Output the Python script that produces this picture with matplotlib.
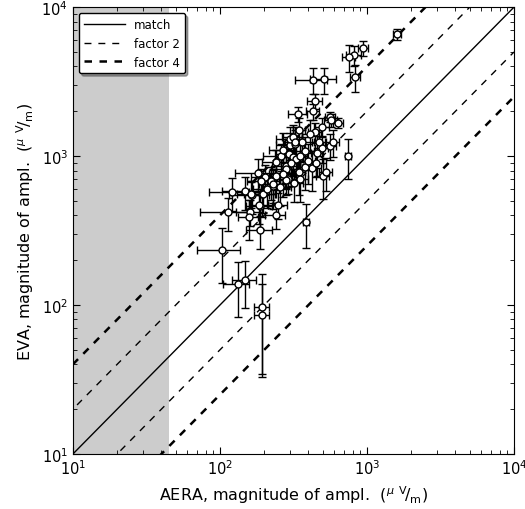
import numpy as np
import matplotlib
matplotlib.use('Agg')
import matplotlib.pyplot as plt

plt.rcParams['mathtext.fontset'] = 'dejavusans'

# AERA vs EVA amplitudes (uV/m)
aera = [1600, 940, 817, 755, 828, 430, 509, 443, 430, 340, 560,
        569, 635, 494, 443, 299, 361, 378, 494, 560, 585, 743,
        260, 294, 313, 240, 282, 344, 422, 450, 500, 526, 290,
        240, 182, 202, 190, 222, 229, 165, 193, 148,
        121, 113, 160, 157, 187, 187, 240, 250, 282, 163, 197, 185,
        103, 385, 132, 148, 193, 193,
        299, 313, 322, 326, 347, 270, 330, 410, 460, 280, 305, 350,
        380, 255, 268, 318, 352, 230, 210, 395, 470]
eva = [6590, 5300, 4760, 4620, 3390, 3240, 3270, 2340, 2000, 1910, 1830,
       1745, 1670, 1570, 1450, 1185, 1240, 1080, 1130, 1170, 1240, 1000,
       1000, 1030, 980, 910, 857, 781, 830, 898, 735, 781, 700,
       735, 769, 723, 680, 680, 630, 547, 555, 582,
       573, 421, 421, 390, 461, 318, 402, 469, 690, 556, 556, 469,
       234, 361, 138, 147, 97, 86,
       1300, 1350, 1200, 1250, 1500, 1100, 950, 1400, 1050, 820, 900, 1000,
       850, 620, 760, 660, 700, 650, 600, 930, 1250]
# relative uncertainties
aera_rel = [0.06, 0.08, 0.12, 0.10, 0.08, 0.25, 0.2, 0.12, 0.1, 0.15, 0.08,
            0.1, 0.08, 0.12, 0.1, 0.2, 0.2, 0.15, 0.1, 0.1, 0.1, 0.05,
            0.25, 0.2, 0.15, 0.2, 0.2, 0.1, 0.15, 0.12, 0.1, 0.1, 0.2,
            0.25, 0.3, 0.2, 0.2, 0.15, 0.15, 0.3, 0.25, 0.3,
            0.3, 0.35, 0.2, 0.15, 0.2, 0.2, 0.15, 0.15, 0.1, 0.2, 0.2, 0.15,
            0.32, 0.05, 0.2, 0.18, 0.12, 0.12,
            0.2, 0.15, 0.15, 0.15, 0.1, 0.2, 0.12, 0.12, 0.1, 0.2, 0.15, 0.12,
            0.12, 0.2, 0.2, 0.15, 0.12, 0.2, 0.2, 0.12, 0.1]
eva_rel = [0.08, 0.12, 0.15, 0.2, 0.2, 0.2, 0.2, 0.12, 0.12, 0.12, 0.08,
           0.1, 0.08, 0.15, 0.15, 0.2, 0.2, 0.25, 0.2, 0.2, 0.2, 0.3,
           0.2, 0.25, 0.25, 0.2, 0.3, 0.3, 0.3, 0.2, 0.3, 0.25, 0.2,
           0.2, 0.25, 0.2, 0.2, 0.25, 0.3, 0.25, 0.3, 0.25,
           0.25, 0.25, 0.2, 0.3, 0.3, 0.25, 0.2, 0.2, 0.2, 0.2, 0.25, 0.25,
           0.4, 0.33, 0.4, 0.35, 0.66, 0.6,
           0.2, 0.2, 0.25, 0.25, 0.2, 0.3, 0.3, 0.25, 0.3, 0.25, 0.3, 0.3,
           0.3, 0.25, 0.3, 0.25, 0.3, 0.25, 0.25, 0.3, 0.2]

aera = np.array(aera, dtype=float)
eva = np.array(eva, dtype=float)
xerr = aera * np.array(aera_rel)
yerr = eva * np.array(eva_rel)

fig = plt.figure(figsize=(5.25, 5.1), dpi=100)
ax = fig.add_axes([0.139, 0.108, 0.840, 0.876])

ax.axvspan(10, 45, color='0.8', lw=0, zorder=0)

ref = np.array([1.0, 1e4])
ax.plot(ref, ref, 'k-', lw=1, label='match')
ax.plot(ref, 2 * ref, 'k--', lw=1, dashes=(5, 5), label='factor 2')
ax.plot(ref, ref / 2, 'k--', lw=1, dashes=(5, 5))
ax.plot(ref, 4 * ref, 'k--', lw=1.8, dashes=(3, 3), label='factor 4')
ax.plot(ref, ref / 4, 'k--', lw=1.8, dashes=(3, 3))

ax.errorbar(aera, eva, xerr=xerr, yerr=yerr, fmt='o', ms=5, mfc='white',
            mec='black', mew=1, ecolor='black', elinewidth=1, capsize=3,
            capthick=1, zorder=3)

ax.set_xscale('log')
ax.set_yscale('log')
ax.set_xlim(10, 1e4)
ax.set_ylim(10, 1e4)
ax.tick_params(which='both', direction='in', top=True, right=True, labelsize=10.5)
ax.tick_params(which='major', length=5)
ax.tick_params(which='minor', length=3)

ax.set_xlabel(r'AERA, magnitude of ampl.  ($^{\mu}$ $^{\rm V}\!/_{\rm m}$)', fontsize=11.5)
ax.set_ylabel(r'EVA, magnitude of ampl.  ($^{\mu}$ $^{\rm V}\!/_{\rm m}$)', fontsize=11.5)

ax.legend(loc='upper left', fontsize=8.5, fancybox=True, shadow=True,
          framealpha=1, edgecolor='black', handlelength=3.5)

fig.savefig('out.png', dpi=100)
